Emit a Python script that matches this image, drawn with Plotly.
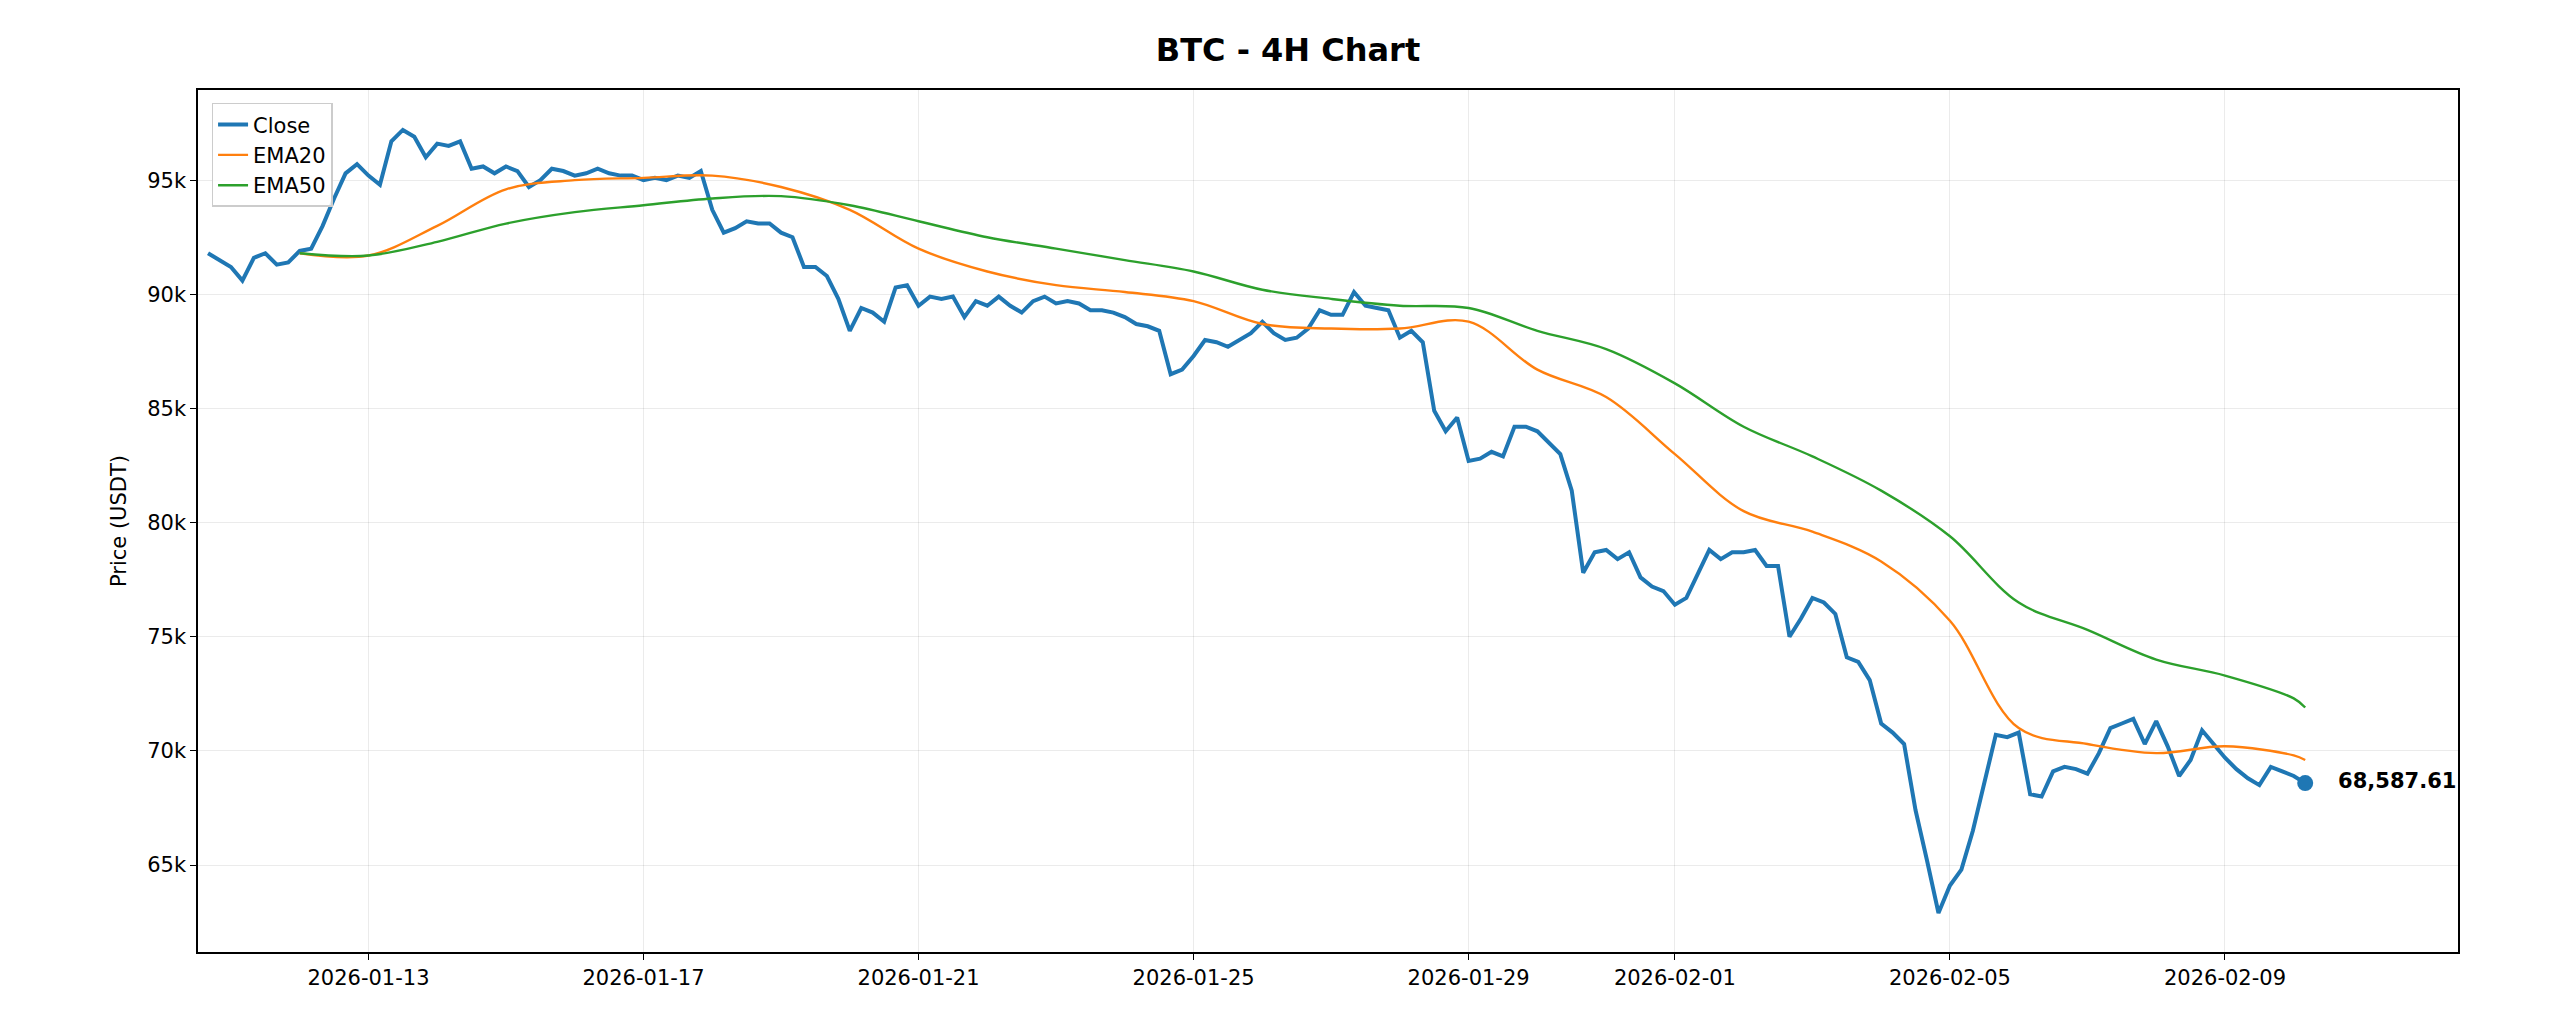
import pandas as pd
import plotly.graph_objects as go

# 4H close prices (2026-01-12 00:00 onward)
close = [91800, 91500, 91200, 90600, 91600, 91800, 91300,
         91400, 91900, 92000, 93000, 94200, 95300, 95700,
         95200, 94800, 96700, 97200, 96900, 96000, 96600, 96500, 96700,
         95500, 95600, 95300, 95600, 95400, 94700, 95000, 95500, 95400, 95200,
         95300, 95500, 95300, 95200, 95200, 95000, 95100, 95000, 95200, 95100, 95400,
         93700, 92700, 92900, 93200, 93100, 93100, 92700, 92500, 91200, 91200,
         90800, 89800, 88400, 89400, 89200, 88800, 90300, 90400,
         89500, 89900, 89800, 89900, 89000, 89700, 89500, 89900, 89500, 89200,
         89700, 89900, 89600, 89700, 89600, 89300, 89300, 89200, 89000, 88700, 88600, 88400,
         86500, 86700, 87300, 88000, 87900, 87700, 88000, 88300, 88800,
         88300, 88000, 88100, 88500, 89300, 89100, 89100, 90100,
         89500, 89400, 89300, 88100, 88400, 87900, 84900, 84000, 84600,
         82700, 82800, 83100, 82900, 84200, 84200, 84000, 83500, 83000, 81400,
         77800, 78700, 78800, 78400, 78700, 77600, 77200, 77000, 76400, 76700,
         77800, 78800, 78400, 78700, 78700, 78800, 78100, 78100,
         75000, 75800, 76700, 76500, 76000, 74100, 73900, 73100, 71200, 70800, 70300,
         67400, 65200, 62900, 64100, 64800, 66500, 68600, 70700, 70600, 70800,
         68100, 68000, 69100, 69300, 69200, 69000, 69900, 71000, 71200, 71400,
         70300, 71300, 70200, 68900, 69600, 70900, 70300, 69700, 69200, 68800,
         68500, 69300, 69100, 68900, 68587.61]

# EMA values read once per day (00:00) plus the last bar
ema_dates = ["2026-01-12 00:00", "2026-01-13 00:00", "2026-01-14 00:00", "2026-01-15 00:00",
             "2026-01-16 00:00", "2026-01-17 00:00", "2026-01-18 00:00", "2026-01-19 00:00",
             "2026-01-20 00:00", "2026-01-21 00:00", "2026-01-22 00:00", "2026-01-23 00:00",
             "2026-01-24 00:00", "2026-01-25 00:00", "2026-01-26 00:00", "2026-01-27 00:00",
             "2026-01-28 00:00", "2026-01-29 00:00", "2026-01-30 00:00", "2026-01-31 00:00",
             "2026-02-01 00:00", "2026-02-02 00:00", "2026-02-03 00:00", "2026-02-04 00:00",
             "2026-02-05 00:00", "2026-02-06 00:00", "2026-02-07 00:00", "2026-02-08 00:00",
             "2026-02-09 00:00", "2026-02-10 00:00", "2026-02-10 04:00"]
ema20 = [91800, 91700, 93000, 94600, 95000, 95100, 95200, 94700, 93700, 92000,
         91000, 90400, 90100, 89700, 88700, 88500, 88500, 88800, 86700, 85500,
         83000, 80500, 79600, 78300, 75700, 71000, 70300, 69900, 70200, 69800, 69600]
ema50 = [91800, 91700, 92300, 93100, 93600, 93900, 94200, 94300, 93900, 93200,
         92500, 92000, 91500, 91000, 90200, 89800, 89500, 89400, 88400, 87600,
         86100, 84200, 82900, 81400, 79400, 76500, 75300, 74000, 73300, 72300, 71900]

tick_dates = ["2026-01-13", "2026-01-17", "2026-01-21", "2026-01-25", "2026-01-29",
              "2026-02-01", "2026-02-05", "2026-02-09"]

dates = pd.date_range(end="2026-02-10 04:00", periods=len(close), freq="4h")
ema_x = pd.to_datetime(ema_dates, format="%Y-%m-%d %H:%M")

fig = go.Figure()
fig.add_trace(go.Scatter(x=dates, y=close, name="Close", mode="lines",
                         line=dict(color="#1f77b4", width=4)))
fig.add_trace(go.Scatter(x=ema_x, y=ema20, name="EMA20", mode="lines",
                         line=dict(color="#ff7f0e", width=2.4, shape="spline")))
fig.add_trace(go.Scatter(x=ema_x, y=ema50, name="EMA50", mode="lines",
                         line=dict(color="#2ca02c", width=2.4, shape="spline")))
fig.add_trace(go.Scatter(x=[dates[-1]], y=[close[-1]], mode="markers+text",
                         marker=dict(color="#1f77b4", size=16),
                         text=["<b>   %s</b>" % f"{close[-1]:,.2f}"], textposition="middle right",
                         textfont=dict(size=21, color="black"), showlegend=False))

axis = dict(showline=True, linecolor="black", linewidth=1.5, mirror=True,
            ticks="outside", ticklen=6, tickcolor="black",
            showgrid=True, gridcolor="rgba(0,0,0,0.08)", zeroline=False,
            tickfont=dict(size=21, color="black"))
fig.update_xaxes(**axis, range=["2026-01-10 12:30", "2026-02-12 09:20"],
                 tickvals=tick_dates, ticktext=tick_dates)
fig.update_yaxes(**axis, range=[61190, 98950], tickvals=[65000, 70000, 75000, 80000, 85000, 90000, 95000],
                 title=dict(text="Price (USDT)", font=dict(size=21, color="black")))

fig.update_layout(
    width=2560, height=1024,
    font=dict(family="DejaVu Sans", color="black"),
    title=dict(text="<b>BTC - 4H Chart</b>", x=0.5, xanchor="center", y=0.97,
               font=dict(size=32)),
    plot_bgcolor="white", paper_bgcolor="white",
    margin=dict(l=190, r=110, t=82, b=80),
    legend=dict(x=0.006, y=0.985, xanchor="left", yanchor="top",
                bgcolor="rgba(255,255,255,0.85)", bordercolor="#cccccc", borderwidth=1.5,
                font=dict(size=21)),
)

fig.write_html("out.html")
